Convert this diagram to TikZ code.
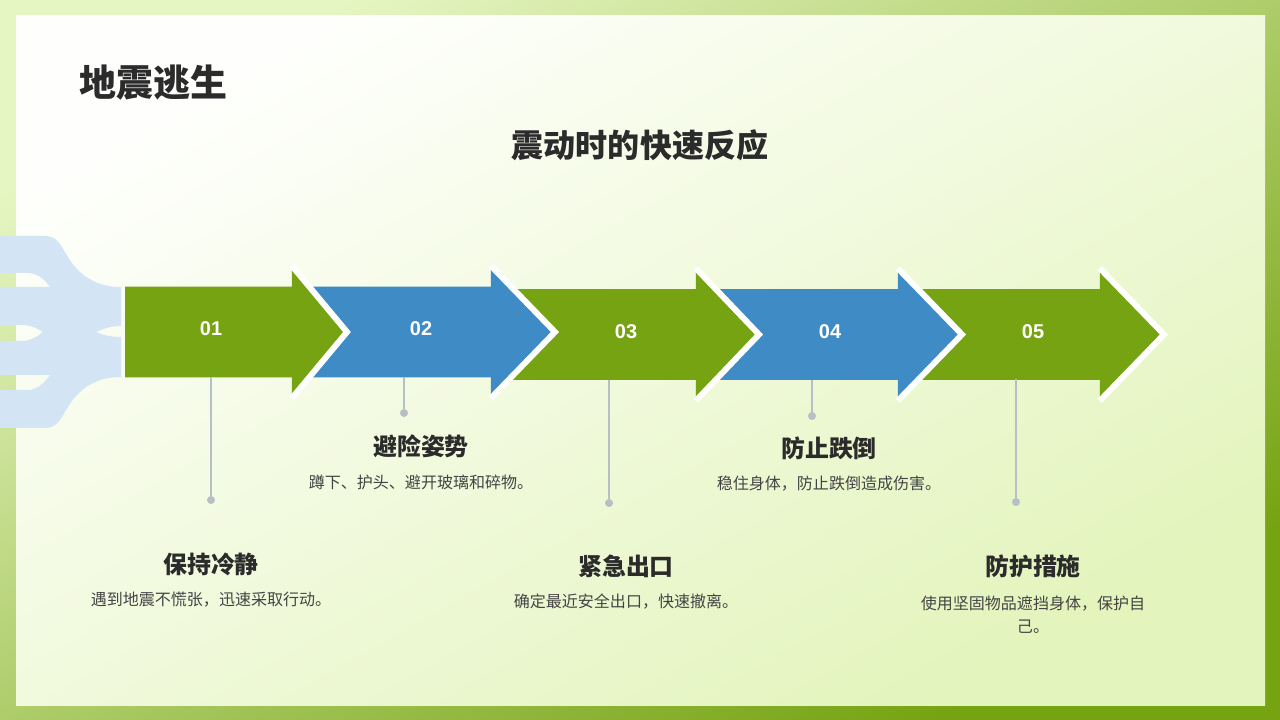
\documentclass[tikz,border=0pt]{standalone}
\usepackage{fontspec}
\setmainfont{Noto Sans CJK SC}
\newfontfamily\numfont{Liberation Sans}
\usetikzlibrary{shapes.arrows,positioning}
\definecolor{leafgreen}{HTML}{76A312}
\definecolor{seablue}{HTML}{3E8BC6}
\definecolor{palesky}{HTML}{D3E5F5}
\definecolor{stemgray}{HTML}{B8BFC4}
\definecolor{inkdark}{HTML}{2B2B2B}
\definecolor{inksoft}{HTML}{444444}
\definecolor{rimlight}{HTML}{E6F6C3}
\definecolor{panelwhite}{HTML}{FEFFFC}
\definecolor{panelgreen}{HTML}{E3F4BC}
\def\pxu{0.025cm}
\tikzstyle{arrowbox}=[single arrow,inner sep=0pt,outer sep=0pt,
  text height=2.25cm,text depth=0pt,single arrow head extend=21*\pxu,anchor=tail]
\tikzstyle{headrim}=[white,line width=4.2pt]
\tikzstyle{stem}=[stemgray,line width=1.1pt]
\tikzstyle{dot}=[circle,fill=stemgray,inner sep=0pt,minimum size=8*\pxu]
\tikzstyle{num}=[text=white,font=\numfont\bfseries\fontsize{14.2}{17}\selectfont]
\tikzstyle{heading}=[text=inkdark,font=\bfseries\fontsize{17}{20}\selectfont]
\tikzstyle{desc}=[text=inksoft,align=center,font=\fontsize{11.4}{16.5}\selectfont]

\begin{document}
\begin{tikzpicture}[x=\pxu, y=-\pxu, on grid, node distance=0.9cm]
  \useasboundingbox (0,0) rectangle (1280,720);
  \shade[top color=rimlight, bottom color=leafgreen, shading angle=29.4] (0,0) rectangle (1280,720);
  \shade[top color=panelwhite, bottom color=panelgreen, shading angle=29.4] (16,16) rectangle (1265,705);

  % fan at the left edge
  \fill[palesky] (0,236) -- (45,236) .. controls (60,236) and (62,250) .. (72,263)
    .. controls (84,279) and (100,287) .. (121,287) -- (121,326)
    .. controls (110,326) and (103,329) .. (96,332) .. controls (103,335) and (110,337) .. (121,337)
    -- (121,377) .. controls (100,377) and (84,385) .. (72,401)
    .. controls (62,414) and (60,428) .. (45,428) -- (0,428) -- (0,390) -- (28,390)
    .. controls (36,390) and (44,384) .. (50,375) -- (0,375) -- (0,341) -- (22,341)
    .. controls (30,341) and (37,337) .. (43,332) .. controls (37,328) and (30,325) .. (22,325)
    -- (0,325) -- (0,287) -- (50,287) .. controls (44,278) and (36,273) .. (28,273) -- (0,273) -- cycle;

  \node[anchor=west, text=inkdark, font=\bfseries\fontsize{26.3}{30}\selectfont] (title) at (75,83) {地震逃生};
  \node[text=inkdark, font=\bfseries\fontsize{22.8}{27}\selectfont] (subtitle) at (640,145) {震动时的快速反应};

  % last arrow first, each one lies over the next
  \node[arrowbox, fill=leafgreen, minimum height=249*\pxu, single arrow tip angle=91.8] (a5) at (915,334.5) {};
  \draw[headrim] (a5.before tip) -- (a5.tip) -- (a5.after tip);
  \node[arrowbox, fill=seablue, minimum height=247*\pxu, single arrow tip angle=91.8] (a4) at (715,334.5) {};
  \draw[headrim] (a4.before tip) -- (a4.tip) -- (a4.after tip);
  \node[arrowbox, fill=leafgreen, minimum height=253*\pxu, single arrow tip angle=92.7] (a3) at (506,334.5) {};
  \draw[headrim] (a3.before tip) -- (a3.tip) -- (a3.after tip);
  \node[arrowbox, fill=seablue, minimum height=255*\pxu, single arrow tip angle=91.8] (a2) at (300,332) {};
  \draw[headrim] (a2.before tip) -- (a2.tip) -- (a2.after tip);
  \node[arrowbox, fill=leafgreen, minimum height=222*\pxu, single arrow tip angle=100.4] (a1) at (125,332) {};
  \draw[headrim] (a1.before tip) -- (a1.tip) -- (a1.after tip);

  \node[num] (n1) at (211,329) {01};
  \node[num] (n2) at (421,329) {02};
  \node[num] (n3) at (626,332) {03};
  \node[num] (n4) at (830,332) {04};
  \node[num] (n5) at (1033,332) {05};

  \coordinate (s1) at (211,377);
  \coordinate (s2) at (404,377);
  \coordinate (s3) at (609,380);
  \coordinate (s4) at (812,380);
  \coordinate (s5) at (1016,379);
  \node[dot] (d1) at (211,500) {};
  \node[dot] (d2) at (404,413) {};
  \node[dot] (d3) at (609,503) {};
  \node[dot] (d4) at (812,416) {};
  \node[dot] (d5) at (1016,502) {};
  \draw[stem] (s1) -- (d1) (s2) -- (d2) (s3) -- (d3) (s4) -- (d4) (s5) -- (d5);

  \node[heading] (h1) at (211,564) {保持冷静};
  \node[desc, below=of h1] (t1) {遇到地震不慌张，迅速采取行动。};
  \node[heading] (h2) at (421,446) {避险姿势};
  \node[desc, below=of h2] (t2) {蹲下、护头、避开玻璃和碎物。};
  \node[heading] (h3) at (626,566) {紧急出口};
  \node[desc, below=of h3] (t3) {确定最近安全出口，快速撤离。};
  \node[heading] (h4) at (829,448) {防止跌倒};
  \node[desc, below=of h4] (t4) {稳住身体，防止跌倒造成伤害。};
  \node[heading] (h5) at (1033,566) {防护措施};
  \node[desc, below=1.22cm of h5] (t5) {使用坚固物品遮挡身体，保护自\\己。};
\end{tikzpicture}
\end{document}
